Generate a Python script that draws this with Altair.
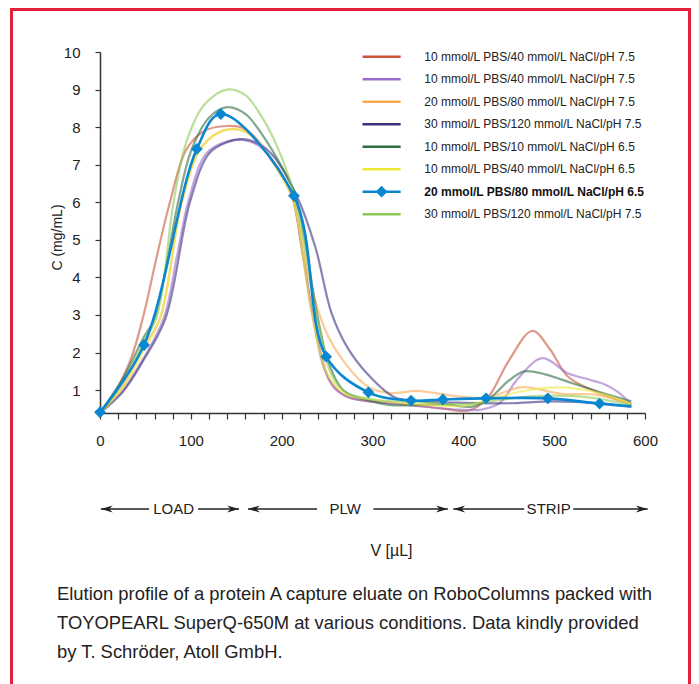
import altair as alt
import pandas as pd

# ---------------- data ----------------
series_ids = ["s1", "s2", "s3", "s4", "s5", "s6", "s7", "s8"]
legend_labels = [
    "10 mmol/L PBS/40 mmol/L NaCl/pH 7.5",
    "10 mmol/L PBS/40 mmol/L NaCl/pH 7.5",
    "20 mmol/L PBS/80 mmol/L NaCl/pH 7.5",
    "30 mmol/L PBS/120 mmol/L NaCl/pH 7.5",
    "10 mmol/L PBS/10 mmol/L NaCl/pH 6.5",
    "10 mmol/L PBS/40 mmol/L NaCl/pH 6.5",
    "20 mmol/L PBS/80 mmol/L NaCl/pH 6.5",
    "30 mmol/L PBS/120 mmol/L NaCl/pH 7.5",
]
colors = ["#c9553b", "#9a6ac8", "#f7aa52", "#3c2f7e", "#2f6d44", "#eeea3a", "#0a87d1", "#8dca55"]

s1_x = [0, 20, 35, 48, 62, 77, 95, 115, 140, 160, 190, 211, 222, 235, 253, 270, 290, 320, 345, 380, 405, 426, 450, 476, 495, 515, 540, 585]
s1_y = [0.40, 1.10, 1.90, 3.00, 4.50, 6.00, 7.40, 7.90, 8.03, 7.95, 7.10, 6.20, 4.80, 2.86, 1.26, 0.85, 0.72, 0.65, 0.60, 0.50, 0.45, 0.77, 1.78, 2.58, 2.10, 1.36, 1.02, 0.62]

s2_x = [0, 25, 48, 70, 85, 97, 117, 140, 157, 175, 195, 211, 224, 235, 245, 258, 275, 300, 330, 360, 395, 420, 440, 460, 487, 515, 540, 556, 570, 585]
s2_y = [0.40, 1.00, 1.85, 2.90, 4.60, 6.00, 7.30, 7.62, 7.66, 7.50, 6.95, 6.20, 4.50, 2.90, 1.70, 1.05, 0.80, 0.70, 0.62, 0.55, 0.48, 0.48, 0.65, 1.30, 1.85, 1.45, 1.27, 1.15, 0.95, 0.62]

s3_x = [0, 25, 48, 66, 90, 110, 130, 150, 170, 192, 212, 230, 248, 270, 295, 320, 350, 385, 425, 465, 508, 545, 585]
s3_y = [0.40, 1.10, 2.15, 2.90, 6.00, 7.40, 7.85, 7.94, 7.75, 7.00, 6.10, 4.00, 2.60, 1.71, 1.09, 0.92, 0.98, 0.86, 0.80, 1.08, 0.90, 0.88, 0.63]

s4_x = [0, 25, 48, 72, 99, 120, 140, 158, 175, 190, 216, 237, 255, 272, 294, 324, 345, 400, 450, 500, 550, 585]
s4_y = [0.40, 0.95, 1.80, 2.90, 6.00, 7.30, 7.60, 7.68, 7.55, 7.26, 6.20, 4.81, 3.04, 2.15, 1.44, 0.81, 0.72, 0.66, 0.65, 0.70, 0.65, 0.55]

s5_x = [0, 25, 48, 60, 86, 100, 120, 140, 160, 180, 200, 215, 240, 252, 270, 300, 320, 345, 380, 410, 430, 450, 467, 490, 520, 550, 585]
s5_y = [0.40, 1.30, 2.40, 2.90, 6.00, 7.35, 8.25, 8.53, 8.35, 7.75, 6.95, 6.20, 2.90, 1.70, 0.95, 0.70, 0.60, 0.60, 0.62, 0.56, 0.80, 1.25, 1.50, 1.42, 1.18, 0.95, 0.70]

s6_x = [0, 25, 48, 66, 90, 110, 130, 150, 170, 192, 212, 232, 250, 270, 300, 350, 400, 430, 465, 508, 548, 585]
s6_y = [0.40, 1.05, 2.05, 2.90, 6.00, 7.40, 7.85, 7.95, 7.70, 7.00, 6.10, 3.20, 1.45, 0.90, 0.75, 0.62, 0.58, 0.75, 0.97, 1.07, 0.93, 0.63]

s7_x = [0, 48.5, 106.6, 133, 213.5, 249, 295.5, 342.5, 377.5, 425, 493, 550, 585]
s7_y = [0.41, 2.20, 7.42, 8.35, 6.17, 1.89, 0.94, 0.72, 0.75, 0.78, 0.78, 0.64, 0.57]
s7_marker = [True, True, True, True, True, True, True, True, True, True, True, True, False]

s8_x = [0, 25, 48, 62, 81, 95, 115, 140, 160, 180, 200, 215, 240, 255, 270, 300, 350, 400, 430, 460, 500, 540, 585]
s8_y = [0.40, 1.20, 2.30, 2.90, 6.00, 7.60, 8.60, 9.00, 8.85, 8.20, 7.20, 6.10, 2.80, 1.40, 0.95, 0.75, 0.68, 0.62, 0.70, 0.80, 0.85, 0.80, 0.60]

x_ticks = list(range(0, 601, 20))
y_ticks = [1, 2, 3, 4, 5, 6, 7, 8, 9, 10]

phase_names = ["LOAD", "PLW", "STRIP"]
phase_start = [1, 163, 389]
phase_end = [153, 383, 603]
phase_label_x = [81, 270, 494]
phase_gap_half = [27, 31, 27]

caption_lines = [
    "Elution profile of a protein A capture eluate on RoboColumns packed with",
    "TOYOPEARL SuperQ-650M at various conditions. Data kindly provided",
    "by T. Schröder, Atoll GmbH.",
]

# ---------------- tables ----------------
all_x = [s1_x, s2_x, s3_x, s4_x, s5_x, s6_x, s7_x, s8_x]
all_y = [s1_y, s2_y, s3_y, s4_y, s5_y, s6_y, s7_y, s8_y]
rows = []
for sid, xs, ys in zip(series_ids, all_x, all_y):
    for xv, yv in zip(xs, ys):
        rows.append({"series": sid, "v": xv, "c": yv})
df = pd.DataFrame(rows)
df_other = df[df.series != "s7"]
df_blue = df[df.series == "s7"]
df_marks = pd.DataFrame({"v": s7_x, "c": s7_y, "m": s7_marker})
df_marks = df_marks[df_marks.m]

df_leg = pd.DataFrame({"row": list(range(8)), "series": series_ids, "label": legend_labels})

seg_rows = []
for n, s, e, lx, g in zip(phase_names, phase_start, phase_end, phase_label_x, phase_gap_half):
    seg_rows.append({"v": s, "b": lx - g})
    seg_rows.append({"v": lx + g, "b": e})
df_seg = pd.DataFrame(seg_rows)
df_phase = pd.DataFrame({"name": phase_names, "start": phase_start, "end": phase_end, "mid": phase_label_x})

FONT = "Liberation Sans, Arial, sans-serif"

color_scale = alt.Scale(domain=series_ids, range=colors)
xscale = alt.Scale(domain=[0, 600], nice=False, zero=False)
yscale = alt.Scale(domain=[0.39, 10], nice=False, zero=False)

xaxis = alt.Axis(values=x_ticks, labelExpr="datum.value % 100 === 0 ? datum.label : ''",
                 labelOverlap=False, labelFlush=False, tickCount=31,
                 grid=False, tickSize=6, labelPadding=14, labelFont=FONT, labelFontSize=15,
                 labelColor="#222", domainColor="#333", tickColor="#333", domainWidth=1.5, tickWidth=1.2,
                 title="V [µL]", titleFont=FONT, titleFontSize=16, titleFontWeight="normal",
                 titleColor="#222", titleX=291, titleY=137, titleBaseline="middle", titleAlign="center")
yaxis = alt.Axis(values=y_ticks, grid=False, tickSize=5, labelPadding=15, labelFont=FONT, labelFontSize=15,
                 labelOverlap=False, labelFlush=False,
                 labelColor="#222", domainColor="#333", tickColor="#333", domainWidth=1.5, tickWidth=1.2,
                 title="C (mg/mL)", titleFont=FONT, titleFontSize=14, titleFontWeight="normal",
                 titleColor="#222", titleX=-43, titleY=185, titleAngle=270, titleBaseline="middle",
                 titleAlign="center")


def XF(field):
    return alt.X(field, scale=xscale, axis=xaxis)


def YF(field):
    return alt.Y(field, scale=yscale, axis=yaxis)


border = alt.Chart(pd.DataFrame({"k": [0]})).mark_rect(
    fill="white", fillOpacity=0, stroke="#e5203c", strokeWidth=3
).encode(x=alt.value(-88.5), x2=alt.value(589.5), y=alt.value(-42.5), y2=alt.value(660))

others = alt.Chart(df_other).mark_line(interpolate="catmull-rom", strokeWidth=2.2, opacity=0.6).encode(
    x=XF("v:Q"), y=YF("c:Q"), color=alt.Color("series:N", scale=color_scale, legend=None),
    detail="series:N", order=alt.Order("v:Q"))

blue = alt.Chart(df_blue).mark_line(interpolate="catmull-rom", strokeWidth=2.6, color="#0a87d1").encode(
    x=XF("v:Q"), y=YF("c:Q"), order=alt.Order("v:Q"))
blue_pts = alt.Chart(df_marks).mark_point(shape="diamond", filled=True, size=140, opacity=1,
                                          color="#0a87d1").encode(x=XF("v:Q"), y=YF("c:Q"))

segs = alt.Chart(df_seg).mark_rule(strokeWidth=1.3, color="#222").encode(
    x=XF("v:Q"), x2="b:Q", y=alt.value(457))
arrow_r = alt.Chart(df_phase).mark_point(shape="M0,0L-2,-0.6L-1.4,0L-2,0.6Z", filled=True, size=140,
                                         color="#222", opacity=1).encode(x=XF("end:Q"), y=alt.value(457))
arrow_l = alt.Chart(df_phase).mark_point(shape="M0,0L2,-0.6L1.4,0L2,0.6Z", filled=True, size=140,
                                         color="#222", opacity=1).encode(x=XF("start:Q"), y=alt.value(457))
phase_txt = alt.Chart(df_phase).mark_text(font=FONT, fontSize=15, color="#222", baseline="middle",
                                          align="center").encode(x=XF("mid:Q"), y=alt.value(457),
                                                                 text="name:N")

caption = alt.Chart(pd.DataFrame({"t": ["\n".join(caption_lines)]})).mark_text(
    font=FONT, fontSize=18.4, color="#222", align="left", baseline="alphabetic", lineBreak="\n",
    lineHeight=29).encode(x=alt.value(-43), y=alt.value(548), text="t:N")

main = alt.layer(border, others, blue, blue_pts, segs, arrow_r, arrow_l, phase_txt, caption)

LY = alt.Y("row:Q", scale=alt.Scale(domain=[0, 7], range=[4.7, 162.2]), axis=None)
leg_lines = alt.Chart(df_leg).mark_rule(strokeWidth=2.5).encode(
    x=alt.X(datum=289, scale=xscale, axis=xaxis), x2=alt.datum(331), y=LY,
    color=alt.Color("series:N", scale=color_scale, legend=None))
leg_diamond = alt.Chart(df_leg).transform_filter("datum.series == 's7'").mark_point(
    shape="diamond", filled=True, size=140, opacity=1, color="#0a87d1").encode(
    x=alt.X(datum=310, scale=xscale, axis=xaxis), y=LY)
leg_text = alt.Chart(df_leg).transform_filter("datum.series != 's7'").mark_text(
    font=FONT, fontSize=12, color="#222", align="left", baseline="middle").encode(
    x=alt.X(datum=357, scale=xscale, axis=xaxis), y=LY, text="label:N")
leg_text_b = alt.Chart(df_leg).transform_filter("datum.series == 's7'").mark_text(
    font=FONT, fontSize=12, fontWeight="bold", color="#111", align="left", baseline="middle").encode(
    x=alt.X(datum=357, scale=xscale, axis=xaxis), y=LY, text="label:N")
legend = alt.layer(leg_lines, leg_diamond, leg_text, leg_text_b)

chart = alt.layer(main, legend).resolve_scale(y="independent").properties(
    width=545, height=361, autosize=alt.AutoSizeParams(type="none"),
    padding={"left": 92, "top": 44, "right": 46, "bottom": 271},
    background="white"
).configure_view(stroke=None)

chart.save("out.html", embed_options={"renderer": "svg", "actions": False})
